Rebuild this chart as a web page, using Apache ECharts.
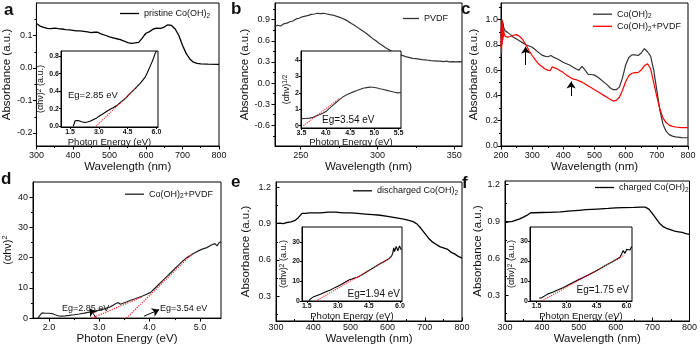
<!DOCTYPE html>
<html><head><meta charset="utf-8">
<script src="https://cdn.jsdelivr.net/npm/echarts@6/dist/echarts.min.js"></script>
<style>html,body{margin:0;padding:0;background:#fff}#c{width:700px;height:346px}</style>
</head><body><div id="c"></div>
<script>
// ---------- DATA ----------
// panel a : pristine Co(OH)2
const aWave = [300,305,310,320,330,340,350,360,370,380,390,400,410,420,430,440,450,458,463,468,475,480,490,500,510,520,530,540,550,560,570,580,585,590,595,600,610,620,630,640,650,660,665,670,680,690,700,710,720,730,740,750,770,800];
const aAbs  = [0.137,0.133,0.129,0.125,0.122,0.121,0.123,0.121,0.12,0.118,0.117,0.116,0.114,0.114,0.113,0.111,0.109,0.11,0.114,0.11,0.106,0.104,0.1,0.096,0.093,0.09,0.087,0.083,0.078,0.076,0.077,0.079,0.083,0.092,0.1,0.107,0.112,0.12,0.123,0.122,0.126,0.133,0.134,0.131,0.12,0.1,0.07,0.045,0.028,0.018,0.014,0.013,0.012,0.011];
const aInE  = [1.67,1.72,1.76,1.85,1.93,2.0,2.1,2.2,2.28,2.4,2.54,2.7,2.89,3.05,3.24,3.4,3.59,3.75,3.85,4.0,4.11,4.3,4.46,4.6,4.8,5.0,5.15,5.3,5.41,5.5,5.58,5.68,5.76,5.85,5.93,6.0];
const aInY  = [0,0.03,0.06,0.07,0.065,0.055,0.05,0.045,0.042,0.048,0.056,0.072,0.094,0.118,0.144,0.168,0.194,0.21,0.22,0.245,0.27,0.3,0.335,0.37,0.41,0.455,0.49,0.53,0.56,0.6,0.64,0.69,0.73,0.78,0.83,0.86];
const aFitE = [2.85,4.95];
const aFitY = [0,0.44];
// panel b : PVDF
const bWave = [233,235,237,239,241,243,245,247,249,251,253,255,257,259,261,263,265,267,269,271,273,275,277,279,281,283,285,287,289,291,293,295,297,299,301,303,305,307,309,311,313,315,317,319,321,323,325,327,329,331,333,335,337,339,341,343,345,347,349,351,353,355];
const bAbs  = [0.80,0.82,0.81,0.84,0.85,0.87,0.88,0.91,0.92,0.94,0.95,0.96,0.975,0.98,0.99,0.985,0.99,0.98,0.97,0.965,0.95,0.935,0.92,0.9,0.875,0.845,0.82,0.79,0.76,0.73,0.7,0.665,0.63,0.6,0.565,0.535,0.505,0.48,0.455,0.435,0.415,0.4,0.385,0.37,0.36,0.35,0.345,0.34,0.333,0.328,0.323,0.318,0.315,0.31,0.31,0.305,0.31,0.3,0.305,0.3,0.305,0.3];
const bInE  = [3.5,3.58,3.67,3.74,3.81,3.88,3.95,4.02,4.08,4.15,4.22,4.29,4.36,4.43,4.5,4.57,4.64,4.7,4.77,4.84,4.91,4.96,5.01,5.06,5.12,5.19,5.26,5.33,5.4,5.44,5.48,5.52,5.55];
const bInY  = [0.43,0.44,0.46,0.52,0.6,0.68,0.77,0.9,1.07,1.25,1.43,1.6,1.77,1.88,1.98,2.06,2.14,2.21,2.28,2.32,2.35,2.34,2.33,2.3,2.25,2.2,2.15,2.1,2.05,2.1,2.0,2.07,2.02];
const bFitE = [3.54,4.3];
const bFitY = [0,1.7];
// panel c : Co(OH)2 vs Co(OH)2+PVDF
const cWave = [200,201,202,203,204,205,206,207,208,210,213,216,220,230,240,250,260,270,280,290,300,310,320,330,340,350,360,365,370,380,390,400,410,420,430,440,450,455,460,465,470,480,490,500,510,520,530,540,550,560,570,580,590,600,610,620,630,640,650,660,670,680,690,700,710,720,730,740,750,760,780,800];
const cBlack = [0.86,0.93,0.88,0.97,0.9,0.99,0.93,0.97,0.94,0.95,0.91,0.92,0.9,0.88,0.86,0.845,0.83,0.815,0.8,0.79,0.78,0.76,0.74,0.72,0.71,0.705,0.715,0.71,0.7,0.69,0.675,0.66,0.65,0.64,0.625,0.61,0.6,0.605,0.63,0.625,0.6,0.565,0.565,0.56,0.545,0.525,0.505,0.485,0.46,0.445,0.445,0.465,0.54,0.64,0.7,0.72,0.72,0.715,0.735,0.77,0.745,0.71,0.6,0.44,0.28,0.17,0.115,0.09,0.078,0.072,0.066,0.065];
const cRedWave = [200,201,202,203,204,205,206,207,208,209,210,213,216,220,230,240,250,260,270,280,290,300,310,320,330,340,350,358,361,364,370,380,390,400,410,420,430,440,450,460,470,480,490,500,510,520,530,540,550,560,570,580,590,600,610,620,630,640,650,660,670,680,690,700,710,720,730,740,750,760,780,800];
const cRed = [0.78,0.95,0.73,1.0,0.8,0.98,0.84,0.94,0.86,0.91,0.89,0.87,0.88,0.86,0.865,0.875,0.88,0.865,0.84,0.8,0.755,0.715,0.68,0.65,0.63,0.61,0.6,0.595,0.6,0.625,0.62,0.61,0.595,0.58,0.56,0.545,0.53,0.525,0.515,0.505,0.49,0.475,0.46,0.445,0.43,0.415,0.4,0.385,0.37,0.355,0.36,0.385,0.44,0.51,0.555,0.575,0.58,0.58,0.6,0.635,0.65,0.61,0.5,0.39,0.29,0.22,0.185,0.165,0.155,0.15,0.145,0.145];
const cArrowX  = [279,425];
const cArrowLo = [0.64,0.395];
const cArrowHi = [0.785,0.51];
// panel d : Co(OH)2+PVDF Tauc plot
const dE = [1.78,1.82,1.86,1.92,2.0,2.06,2.12,2.19,2.25,2.32,2.4,2.5,2.6,2.7,2.8,2.9,3.0,3.1,3.2,3.28,3.34,3.38,3.42,3.48,3.55,3.62,3.7,3.78,3.86,3.94,4.02,4.1,4.18,4.26,4.34,4.42,4.5,4.58,4.66,4.74,4.82,4.9,4.98,5.06,5.14,5.2,5.26,5.3,5.34,5.38,5.42];
const dY = [0,1.0,1.7,1.6,1.6,1.5,1.1,0.7,0.65,0.75,0.9,1.1,1.35,1.65,2.0,2.3,2.65,3.05,3.6,4.3,4.9,5.1,4.6,5.0,5.4,5.9,6.3,6.8,7.3,7.9,8.5,9.8,11.1,12.4,13.7,15.0,16.3,17.6,18.9,20.0,20.8,21.6,22.3,22.9,23.3,23.9,24.4,24.6,23.9,24.9,25.2];
const dFit1E = [2.85,3.85], dFit1Y = [0,7.0];
const dFit2E = [3.54,4.85], dFit2Y = [0,21.3];
const dArrowFromE = [2.94,3.89], dArrowFromY = [0.05,0.64];
const dArrowToE   = [2.81,4.19], dArrowToY   = [3.1,2.8];
// panel e : discharged
const eWave = [300,310,320,330,340,350,355,360,365,370,375,380,390,400,420,440,460,480,500,520,540,560,580,600,620,640,660,670,680,690,700,710,720,730,740,750,760,770,780,790,800];
const eAbs  = [0.9,0.905,0.9,0.91,0.915,0.925,0.93,0.95,0.965,0.985,0.975,0.985,0.99,0.99,0.99,0.995,0.995,0.99,0.99,0.985,0.98,0.975,0.97,0.96,0.95,0.94,0.925,0.915,0.895,0.86,0.82,0.78,0.75,0.73,0.71,0.7,0.69,0.665,0.65,0.63,0.615];
const eInE  = [1.6,1.7,1.84,2.0,2.16,2.4,2.64,2.88,3.12,3.33,3.53,3.69,3.8,3.93,4.05,4.17,4.37,4.57,4.74,4.9,5.06,5.22,5.34,5.46,5.54,5.6,5.65,5.7,5.74,5.78,5.82,5.86,5.9,5.94,5.98,6.02,6.07];
const eInY  = [0.2,1.2,2.2,2.8,3.4,4.5,5.6,6.9,8.1,9.4,10.6,11.2,11.6,12.0,12.6,13.3,14.6,15.9,17.0,18.0,19.0,19.9,20.6,21.4,22.1,22.9,24.1,26.9,25.0,25.8,27.6,28.0,25.5,26.6,27.9,27.5,25.8];
const eFitE = [1.94,5.5], eFitY = [0,21.6];
// panel f : charged
const fWave = [300,310,320,330,340,350,360,365,370,375,380,400,420,450,480,500,520,550,580,600,620,650,670,680,685,690,700,710,720,730,740,750,760,770,780,790,800];
const fAbs  = [0.89,0.895,0.9,0.91,0.92,0.935,0.95,0.96,0.97,0.965,0.97,0.972,0.973,0.977,0.985,0.99,0.995,1.0,1.005,1.01,1.012,1.013,1.015,1.015,1.01,1.0,0.96,0.92,0.88,0.855,0.84,0.83,0.82,0.815,0.81,0.8,0.795];
const fInE  = [1.63,1.75,1.85,1.95,2.08,2.3,2.58,2.85,3.08,3.35,3.58,3.75,3.9,4.08,4.25,4.42,4.6,4.75,4.92,5.08,5.25,5.42,5.55,5.67,5.75,5.83,5.92,6.0,6.08,6.17,6.25];
const fInY  = [1.4,1.6,2.2,2.8,3.6,4.4,5.6,6.8,8.0,9.4,10.6,11.4,12.1,13.0,13.9,14.8,15.8,16.6,17.6,18.5,19.4,20.4,21.1,21.9,23.5,25.2,23.8,25.8,26.7,25.5,27.2];
const fFitE = [1.75,5.9], fFitY = [0,23];
// tick labels (major) and minor tick positions
const wlTicks = [300,400,500,600,700,800];
const wlMinor = [350,450,550,650,750];
const aYTicks = [-0.2,-0.1,0,0.1];
const aYMinor = [-0.15,-0.05,0.05,0.15];
const bXTicks = [250,300,350];
const bXMinor = [275,325];
const bYTicks = [-0.6,-0.3,0,0.3,0.6,0.9];
const bYMinor = [-0.75,-0.45,-0.15,0.15,0.45,0.75,1.05];
const cXTicks = [200,300,400,500,600,700,800];
const cXMinor = [250,350,450,550,650,750];
const cYTicks = [0,0.2,0.4,0.6,0.8,1.0];
const cYMinor = [0.1,0.3,0.5,0.7,0.9,1.1];
const dXTicks = [2,3,4,5];
const dXMinor = [2.5,3.5,4.5];
const dYTicks = [0,10,20,30,40];
const dYMinor = [5,15,25,35];
const efYTicks = [0.3,0.6,0.9,1.2];
const efYMinor = [0.15,0.45,0.75,1.05];
const insetETicks = [1.5,3.0,4.5,6.0];
const aInYTicks = [0,0.2,0.4,0.6,0.8];
const bInXTicks = [3.5,4.0,4.5,5.0,5.5];
const bInYTicks = [0,1,2,3,4];
const efInYTicks = [0,10,20,30];

// ---------- BUILD ----------
const FF = '"Liberation Sans", Arial, sans-serif';
const zip = (xs, ys) => xs.map((x, i) => [x, ys[i]]);
const grids = [], xAxes = [], yAxes = [], minorX = [], minorY = [], series = [], legends = [], graphics = [];
const richStyles = {
  t:{fontSize:9,fontFamily:FF,color:'#111',lineHeight:12},
  s:{fontSize:6.5,fontFamily:FF,color:'#111',lineHeight:6,verticalAlign:'bottom'},
  n:{fontSize:11,fontFamily:FF,color:'#111',lineHeight:13},
  sp:{fontSize:7.5,fontFamily:FF,color:'#111',lineHeight:7,verticalAlign:'top'},
  ni:{fontSize:9,fontFamily:FF,color:'#111',lineHeight:11},
  spi:{fontSize:6.5,fontFamily:FF,color:'#111',lineHeight:6,verticalAlign:'top'}
};
function rt(n){
  const parts = n.split('Co(OH)2'); let out = '';
  parts.forEach((p,i)=>{ if(p.trim()) out += '{t|'+p+'}'; if(i<parts.length-1) out += '{t|Co(OH)}{s|2}'; });
  return out;
}
function minorAxis(gi, isX, range, vals, inside){
  const ax = {type:'value',gridIndex:gi,min:range[0],max:range[1],position:isX?'bottom':'left',z:1,
    axisLine:{show:false,onZero:false},axisLabel:{show:false},splitLine:{show:false},
    axisTick:{show:true,customValues:vals,inside:!!inside,length:2,lineStyle:{color:'#000',width:1}}};
  (isX?minorX:minorY).push(ax);
}
function panel(o){
  const gi = grids.length;
  const inset = !!o.inset;
  grids.push({left:o.box[0],top:o.box[1],width:o.box[2],height:o.box[3],show:true,
    borderColor:'#000',borderWidth:1,backgroundColor:inset?'#fff':'transparent',z:inset?3:0});
  const az = inset?4:1;
  xAxes.push({type:'value',gridIndex:gi,min:o.x[0],max:o.x[1],z:az,position:'bottom',
    axisLine:{show:true,onZero:false,lineStyle:{color:'#000',width:1}},
    axisTick:{show:true,customValues:o.xt,inside:!!o.tin,length:inset?2:3.5,lineStyle:{color:'#000',width:1}},
    axisLabel:{show:true,customValues:o.xt,formatter:v=>Number(v).toFixed(o.xd),margin:o.xm,
      fontSize:inset?7:9,fontWeight:inset?'bold':'normal',color:'#111',fontFamily:FF},
    splitLine:{show:false},
    name:o.xn,nameLocation:'middle',nameGap:o.xg,
    nameTextStyle:{fontSize:o.xnf,color:'#111',fontFamily:FF}});
  yAxes.push({type:'value',gridIndex:gi,min:o.y[0],max:o.y[1],z:az,position:'left',
    axisLine:{show:true,onZero:false,lineStyle:{color:'#000',width:1}},
    axisTick:{show:true,customValues:o.yt,inside:!!o.tin,length:inset?2:3.5,lineStyle:{color:'#000',width:1}},
    axisLabel:{show:true,customValues:o.yt,formatter:v=>Number(v).toFixed(o.yd),margin:o.ym,
      fontSize:inset?7:9,fontWeight:inset?'bold':'normal',color:'#111',fontFamily:FF},
    splitLine:{show:false},
    name:o.yn,nameLocation:'middle',nameGap:o.yg,nameRotate:90,
    nameTextStyle:{fontSize:o.ynf,color:'#111',fontFamily:FF,rich:richStyles}});
  if(o.xmin) minorAxis(gi,true,o.x,o.xmin,o.tin);
  if(o.ymin) minorAxis(gi,false,o.y,o.ymin,o.tin);
  return gi;
}
function addLine(gi, name, xs, ys, color, width, z, dotted){
  const s = {type:'line',name:name,xAxisIndex:gi,yAxisIndex:gi,data:zip(xs,ys),
    showSymbol:false,symbol:'none',silent:true,z:z,
    lineStyle:{color:color,width:width,type:dotted?'dotted':'solid'},itemStyle:{color:color}};
  series.push(s); return s;
}
function arrows(s, fx, fy, tx, ty){
  s.markLine = {silent:true,symbol:['none','arrow'],symbolSize:7,animation:false,
    label:{show:false},lineStyle:{color:'#000',width:1,type:'solid'},itemStyle:{color:'#000'},emphasis:{disabled:true},
    data: fx.map((x,i)=>[{coord:[x,fy[i]]},{coord:[tx[i],ty[i]]}])};
}
function legend(names, left, top, iw){
  legends.push({left:left,top:top,orient:'vertical',icon:'rect',itemWidth:iw,itemHeight:1.3,itemGap:1.6,padding:0,
    selectedMode:false,data:names,formatter:rt,textStyle:{fontSize:9,fontFamily:FF,color:'#111',rich:richStyles}});
}
function txt(x, y, text, size, bold, align){
  graphics.push({type:'text',x:x,y:y,z:100,silent:true,style:{text:text,fontSize:size,fontWeight:bold?'bold':'normal',
    fontFamily:FF,fill:'#111',textAlign:align||'left',textVerticalAlign:'middle'}});
}
const absName = 'Absorbance (a.u.)', wlName = 'Wavelength (nm)', peName = 'Photon Energy (eV)';
const ahv2 = '{ni|(αhν)}{spi|2}{ni| (a.u.)}';

// a
let g = panel({box:[32,3,187,143],x:[300,800],xt:wlTicks,xmin:wlMinor,xd:0,xm:5,xn:wlName,xg:10,xnf:11.5,
  y:[-0.24,0.2],yt:aYTicks,ymin:aYMinor,yd:1,ym:4,yn:absName,yg:18,ynf:11.5});
addLine(g,'pristine Co(OH)2',aWave,aAbs,'#000',1.3,2);
legend(['pristine Co(OH)2'],120,9,19);
g = panel({inset:true,box:[61,51,97,76],x:[1.03,6.08],xt:insetETicks,xd:1,xm:2,xn:peName,xg:7,xnf:9.5,
  y:[-0.01,0.86],yt:aInYTicks,yd:1,ym:2,yn:ahv2,yg:13,ynf:9});
addLine(g,'aIn',aInE,aInY,'#000',1.1,5);
addLine(g,'aFit',aFitE,aFitY,'#ff2020',1.1,6,true);
// b
g = panel({box:[275,3,187,143],x:[233.3,355],xt:bXTicks,xmin:bXMinor,xd:0,xm:5,xn:wlName,xg:10,xnf:11.5,
  y:[-0.894,1.136],yt:bYTicks,ymin:bYMinor,yd:1,ym:5,yn:absName,yg:21,ynf:11.5});
addLine(g,'PVDF',bWave,bAbs,'#333',1.2,2);
legend(['PVDF'],403,14,16);
g = panel({inset:true,box:[301,51,100,77],x:[3.49,5.55],xt:bInXTicks,xd:1,xm:1.5,xn:peName,xg:7,xnf:9.5,
  y:[-0.14,4.55],yt:bInYTicks,yd:0,ym:2,yn:'{ni|(αhν)}{spi|1/2}',yg:8,ynf:9});
addLine(g,'bIn',bInE,bInY,'#333',1.1,5);
addLine(g,'bFit',bFitE,bFitY,'#ff2020',1.1,6,true);
// c
g = panel({box:[501,3,187,143],x:[200,800],xt:cXTicks,xmin:cXMinor,xd:0,xm:5,xn:wlName,xg:10,xnf:11.5,
  y:[0,1.13],yt:cYTicks,ymin:cYMinor,yd:1,ym:3,yn:absName,yg:21,ynf:11.5});
const cs = addLine(g,'Co(OH)2',cWave,cBlack,'#333',1.2,2);
addLine(g,'Co(OH)2+PVDF',cRedWave,cRed,'#ff0000',1.2,3);
arrows(cs, cArrowX, cArrowLo, cArrowX, cArrowHi);
legend(['Co(OH)2','Co(OH)2+PVDF'],593,9.7,19);
// d
g = panel({box:[32,182,189,140],x:[1.68,5.42],xt:dXTicks,xmin:dXMinor,xd:1,xm:5,xn:peName,xg:11,xnf:11.5,
  y:[0,45],yt:dYTicks,ymin:dYMinor,yd:0,ym:5,yn:'{n|(αhν)}{sp|2}',yg:19,ynf:11});
const ds = addLine(g,'Co(OH)2+PVDF ',dE,dY,'#222',1.2,2);
addLine(g,'dFit1',dFit1E,dFit1Y,'#ff2020',1.2,3,true);
addLine(g,'dFit2',dFit2E,dFit2Y,'#ff2020',1.2,3,true);
arrows(ds, dArrowFromE, dArrowFromY, dArrowToE, dArrowToY);
legend(['Co(OH)2+PVDF '],125,189.7,19);
// e
g = panel({box:[276,182,186,140],x:[300,800],xt:wlTicks,xmin:wlMinor,xd:0,xm:2,tin:true,xn:wlName,xg:12,xnf:11.5,
  y:[0.095,1.245],yt:efYTicks,ymin:efYMinor,yd:1,ym:5,yn:absName,yg:24,ynf:11.5});
addLine(g,'discharged Co(OH)2',eWave,eAbs,'#000',1.3,2);
legend(['discharged Co(OH)2'],353,186.3,19);
g = panel({inset:true,box:[302,227,100,74],x:[1.27,6.1],xt:insetETicks,xd:1,xm:2,xn:peName,xg:7,xnf:9.5,
  y:[0,37.5],yt:efInYTicks,yd:0,ym:2,yn:ahv2,yg:11,ynf:9});
addLine(g,'eIn',eInE,eInY,'#000',1.1,5);
addLine(g,'eFit',eFitE,eFitY,'#ff2020',1.1,6,true);
// f
g = panel({box:[505,181,187,141],x:[300,800],xt:wlTicks,xmin:wlMinor,xd:0,xm:2,tin:true,xn:wlName,xg:12,xnf:11.5,
  y:[0.09,1.228],yt:efYTicks,ymin:efYMinor,yd:1,ym:5,yn:absName,yg:19,ynf:11.5});
addLine(g,'charged Co(OH)2',fWave,fAbs,'#000',1.3,2);
legend(['charged Co(OH)2'],595,183,19);
g = panel({inset:true,box:[530,227,102,74],x:[1.17,6.27],xt:insetETicks,xd:1,xm:2,xn:peName,xg:7,xnf:9.5,
  y:[0,37],yt:efInYTicks,yd:0,ym:2,yn:ahv2,yg:11,ynf:9});
addLine(g,'fIn',fInE,fInY,'#000',1.1,5);
addLine(g,'fFit',fFitE,fFitY,'#ff2020',1.1,6,true);

// panel letters & annotations
txt(4,10.5,'a',17,true); txt(231,9,'b',17,true); txt(461,9,'c',17,true);
txt(1,179,'d',17,true); txt(231,182,'e',17,true); txt(462,183,'f',17,true);
txt(68,95,'Eg=2.85 eV',9.5); txt(322,120,'Eg=3.54 eV',10);
txt(400,294,'Eg=1.94 eV',10,false,'right'); txt(629,290.5,'Eg=1.75 eV',10,false,'right');
txt(62,308.5,'Eg=2.85 eV',9); txt(160,308.3,'Eg=3.54 eV',9);

const chart = echarts.init(document.getElementById('c'), null, {renderer:'canvas'});
chart.setOption({animation:false,backgroundColor:'#fff',grid:grids,
  xAxis:xAxes.concat(minorX),yAxis:yAxes.concat(minorY),
  series:series,legend:legends,graphic:graphics});
</script></body></html>
